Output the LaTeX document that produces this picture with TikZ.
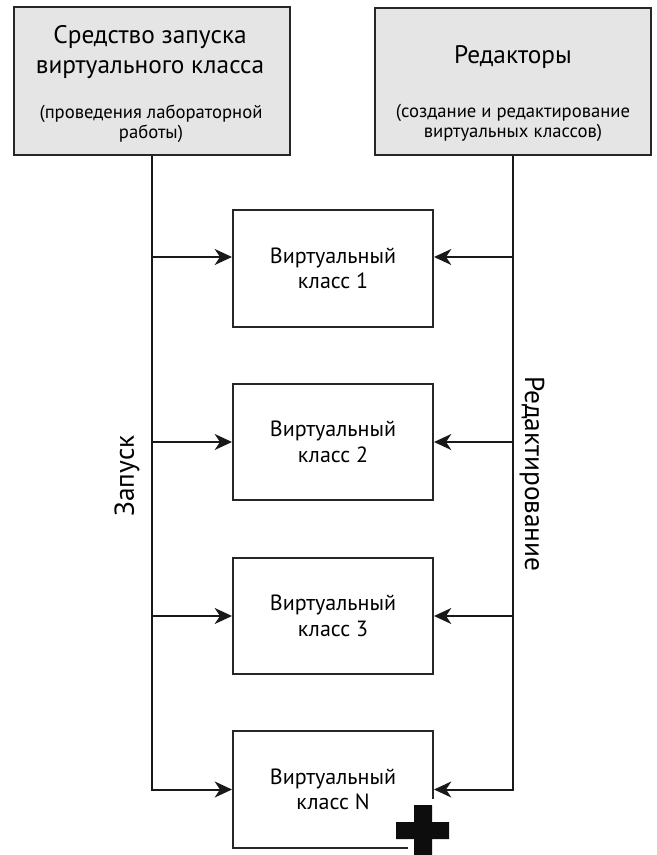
\documentclass[tikz,border=0pt]{standalone}
\usepackage{fontspec}
\setmainfont{PT Sans}
\usetikzlibrary{arrows.meta,positioning}

\begin{document}
\begin{tikzpicture}[x=0.75pt, y=-0.75pt,
    head/.style={draw=black!85, line width=1.5pt, fill=black!10, minimum width=207pt, minimum height=110.5pt},
    vclass/.style={draw=black!85, line width=1.5pt, fill=white, minimum width=150pt, minimum height=87.5pt, align=center, font=\fontsize{16.5}{19}\selectfont},
    title/.style={align=center, font=\fontsize{19}{22.5}\selectfont},
    note/.style={align=center, font=\fontsize{14}{15}\selectfont},
    side/.style={font=\fontsize{20.5}{22}\selectfont},
    feed/.style={line width=1.5pt, draw=black!90, -{Stealth[length=13pt,width=12pt,inset=4pt]}}]
\useasboundingbox (0,0) rectangle (656,855);

% top blocks
\node[head] (launcher) at (151.5,81) {};
\node[head] (editors) at (512.5,81.5) {};
\node[title] (launcher title) at (150,52) {Средство запуска\\виртуального класса};
\node[note] (launcher note) at (151,124) {(проведения лабораторной\\работы)};
\node[title] (editors title) at (513,57) {Редакторы};
\node[note] (editors note) at (513,123) {(создание и редактирование\\виртуальных классов)};

% virtual classes
\node[vclass] (class 1) at (333,268.5) {Виртуальный\\класс 1};
\node[vclass] (class 2) at (333,442) {Виртуальный\\класс 2};
\node[vclass] (class 3) at (333,616) {Виртуальный\\класс 3};
\node[vclass] (class N) at (333,789.5) {Виртуальный\\класс N};

% launch side
\draw[feed] (launcher.south) |- (class N.west);
\draw[feed] (launcher.south |- 0,257) -- (class 1.west |- 0,257);
\draw[feed] (launcher.south |- class 2.west) -- (class 2.west);
\draw[feed] (launcher.south |- class 3.west) -- (class 3.west);

% editing side
\draw[feed] (editors.south) |- (class N.east);
\draw[feed] (editors.south |- 0,257) -- (class 1.east |- 0,257);
\draw[feed] (editors.south |- class 2.east) -- (class 2.east);
\draw[feed] (editors.south |- class 3.east) -- (class 3.east);

\node[side, rotate=90] (launch label) at (127,476) {Запуск};
\node[side, rotate=-90] (edit label) at (532,474) {Редактирование};

% plus sign
\draw[white, line width=9pt, line join=miter] (396,822) -- (414,822) -- (414,805) -- (432,805) -- (432,822) -- (449,822) -- (449,839) -- (432,839) -- (432,860) -- (414,860) -- (414,839) -- (396,839) -- cycle;
\fill[black!95] (396,822) -- (414,822) -- (414,805) -- (432,805) -- (432,822) -- (449,822) -- (449,839) -- (432,839) -- (432,860) -- (414,860) -- (414,839) -- (396,839) -- cycle;
\end{tikzpicture}
\end{document}
